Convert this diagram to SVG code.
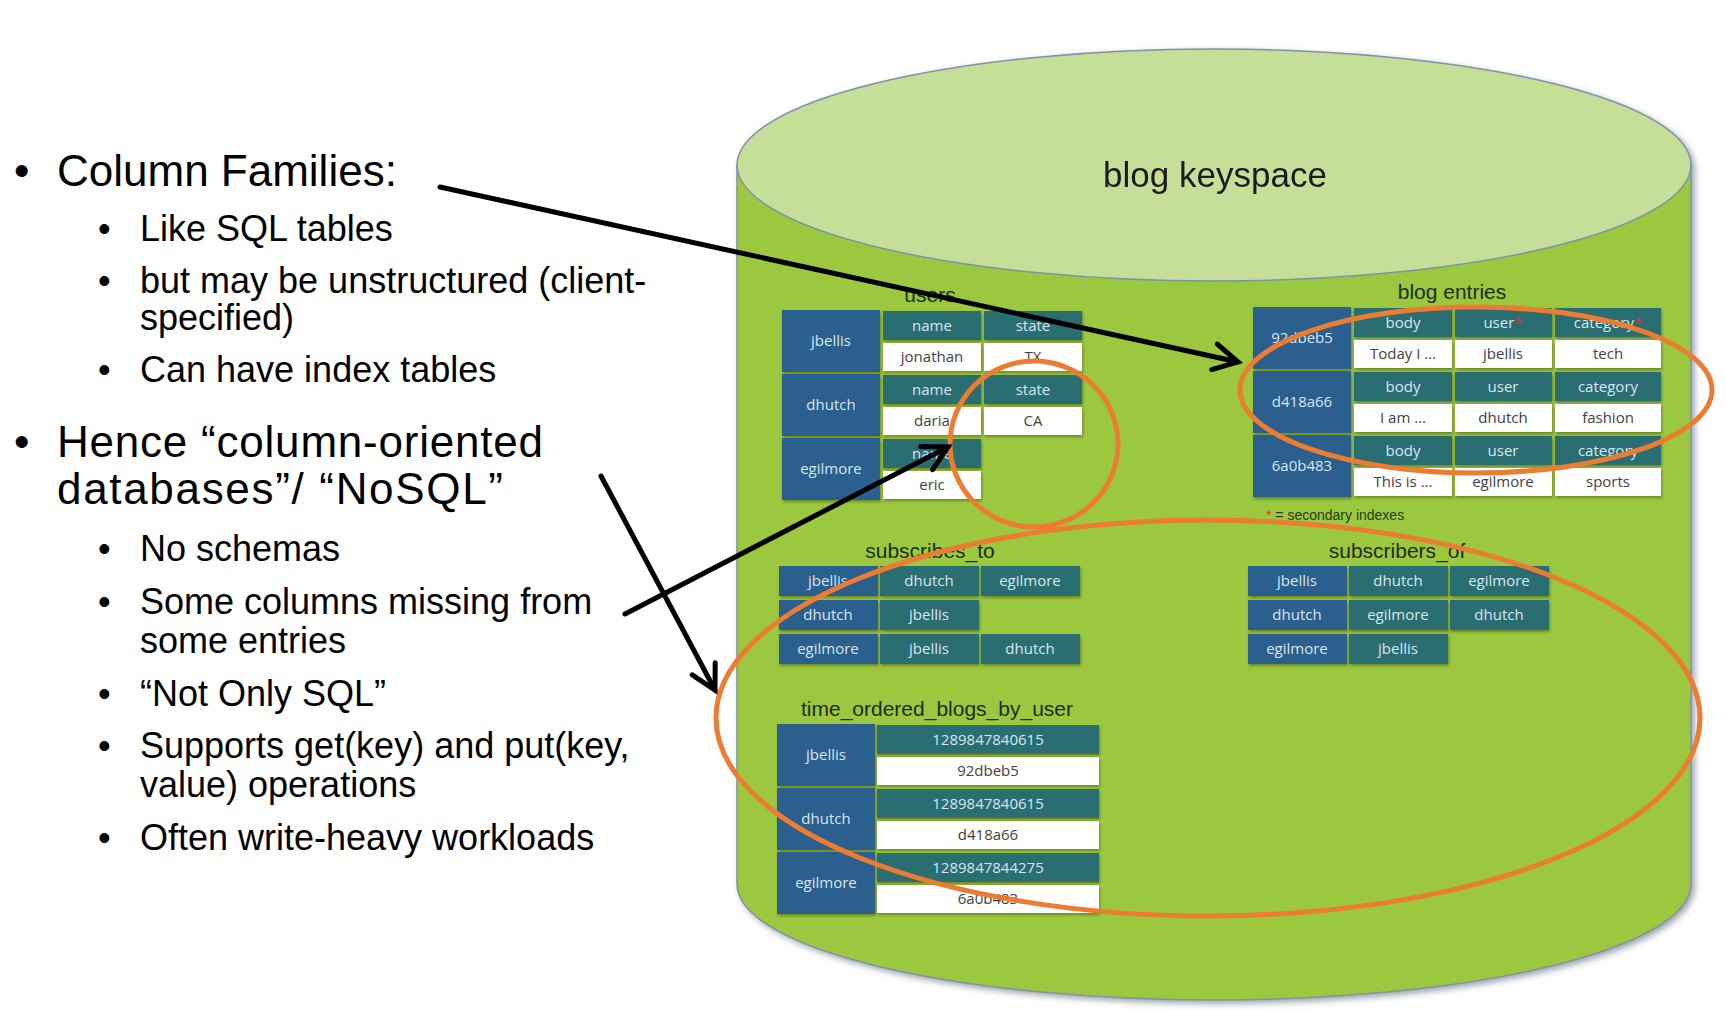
<svg xmlns="http://www.w3.org/2000/svg" width="1726" height="1010" viewBox="0 0 1726 1010">
<defs>
<style>
.l1{font-family:"Liberation Sans",Arial,sans-serif;font-size:44px;fill:#000}
.l2{font-family:"Liberation Sans",Arial,sans-serif;font-size:36px;fill:#000}
.ttl{font-family:"Liberation Sans",Arial,sans-serif;font-size:21px;fill:#1e2e0c;text-anchor:middle}
.key{fill:#2b5e8e}
.hdr{fill:#2a6e72}
.val{fill:#ffffff}
.tk{font-family:"Open Sans","DejaVu Sans",sans-serif;font-size:15px;fill:#d8e6ef;text-anchor:middle}
.tv{font-family:"Open Sans","DejaVu Sans",sans-serif;font-size:15px;fill:#3f3f3f;text-anchor:middle}
.ann{fill:none;stroke:#ec7c31;stroke-width:5}
.arr{fill:none;stroke:#000;stroke-width:5;stroke-linecap:round}
</style>
<filter id="sh" x="-5%" y="-5%" width="110%" height="115%">
<feDropShadow dx="1" dy="2" stdDeviation="1.5" flood-color="#2a3a10" flood-opacity="0.45"/>
</filter>
<filter id="cs" x="-5%" y="-5%" width="110%" height="110%">
<feDropShadow dx="3" dy="3" stdDeviation="3" flood-color="#5a6a78" flood-opacity="0.6"/>
</filter>
<marker id="ah" markerUnits="userSpaceOnUse" markerWidth="40" markerHeight="40" viewBox="-30 -20 40 40" refX="0" refY="0" orient="auto" overflow="visible">
<path d="M -24 -13 L 0 0 L -24 13" fill="none" stroke="#000" stroke-width="5" stroke-linecap="round" stroke-linejoin="miter"/>
</marker>
</defs>
<rect width="1726" height="1010" fill="#ffffff"/>

<g id="cylinder" filter="url(#cs)">
<path d="M 737 165 L 737 884 A 477 116 0 0 0 1691 884 L 1691 165 Z" fill="#9cc840" stroke="#7d93a6" stroke-width="1.5"/>
<ellipse cx="1214" cy="165" rx="477" ry="116" fill="#c6df98" stroke="#7d93a6" stroke-width="1.5"/>
<text x="1215" y="187" font-family="Liberation Sans, Arial, sans-serif" font-size="35" fill="#1a1a1a" text-anchor="middle">blog keyspace</text>
</g>

<g id="bullets-column-families">
<text class="l1" x="14" y="186">•</text><text class="l1" x="57" y="186">Column Families:</text>
<text class="l2" x="98" y="241">•</text><text class="l2" x="140" y="241">Like SQL tables</text>
<text class="l2" x="98" y="293">•</text><text class="l2" x="140" y="293">but may be unstructured (client-</text>
<text class="l2" x="140" y="330">specified)</text>
<text class="l2" x="98" y="382">•</text><text class="l2" x="140" y="382">Can have index tables</text>
</g>

<g id="bullets-hence">
<text class="l1" x="14" y="457">•</text><text class="l1" x="57" y="457" textLength="486" lengthAdjust="spacing">Hence “column-oriented</text>
<text class="l1" x="57" y="504" textLength="446" lengthAdjust="spacing">databases”/ “NoSQL”</text>
<text class="l2" x="98" y="561">•</text><text class="l2" x="140" y="561">No schemas</text>
<text class="l2" x="98" y="614">•</text><text class="l2" x="140" y="614">Some columns missing from</text>
<text class="l2" x="140" y="653">some entries</text>
<text class="l2" x="98" y="706">•</text><text class="l2" x="140" y="706">“Not Only SQL”</text>
<text class="l2" x="98" y="758">•</text><text class="l2" x="140" y="758">Supports get(key) and put(key,</text>
<text class="l2" x="140" y="797">value) operations</text>
<text class="l2" x="98" y="850">•</text><text class="l2" x="140" y="850">Often write-heavy workloads</text>
</g>

<g id="table-users">
<text class="ttl" x="930" y="302">users</text>
<g filter="url(#sh)">
<rect class="key" x="782" y="310" width="98" height="62"/>
<rect class="key" x="782" y="374" width="98" height="62"/>
<rect class="key" x="782" y="438" width="98" height="62"/>
<rect class="hdr" x="883" y="311" width="98" height="29"/><rect class="hdr" x="984" y="311" width="98" height="29"/>
<rect class="val" x="883" y="343" width="98" height="28"/><rect class="val" x="984" y="343" width="98" height="28"/>
<rect class="hdr" x="883" y="375" width="98" height="29"/><rect class="hdr" x="984" y="375" width="98" height="29"/>
<rect class="val" x="883" y="407" width="98" height="28"/><rect class="val" x="984" y="407" width="98" height="28"/>
<rect class="hdr" x="883" y="439" width="98" height="29"/>
<rect class="val" x="883" y="471" width="98" height="28"/>
</g>
<text class="tk" x="831" y="346">jbellis</text>
<text class="tk" x="831" y="410">dhutch</text>
<text class="tk" x="831" y="474">egilmore</text>
<text class="tk" x="932" y="331">name</text><text class="tk" x="1033" y="331">state</text>
<text class="tv" x="932" y="362">jonathan</text><text class="tv" x="1033" y="362">TX</text>
<text class="tk" x="932" y="395">name</text><text class="tk" x="1033" y="395">state</text>
<text class="tv" x="932" y="426">daria</text><text class="tv" x="1033" y="426">CA</text>
<text class="tk" x="932" y="459">name</text>
<text class="tv" x="932" y="490">eric</text>
</g>

<g id="table-blog-entries">
<text class="ttl" x="1452" y="299">blog entries</text>
<g filter="url(#sh)">
<rect class="key" x="1253" y="307" width="98" height="62"/>
<rect class="key" x="1253" y="371" width="98" height="62"/>
<rect class="key" x="1253" y="435" width="98" height="62"/>
<rect class="hdr" x="1354" y="308" width="98" height="29"/><rect class="hdr" x="1455" y="308" width="97" height="29"/><rect class="hdr" x="1555" y="308" width="106" height="29"/>
<rect class="val" x="1354" y="340" width="98" height="28"/><rect class="val" x="1455" y="340" width="97" height="28"/><rect class="val" x="1555" y="340" width="106" height="28"/>
<rect class="hdr" x="1354" y="372" width="98" height="29"/><rect class="hdr" x="1455" y="372" width="97" height="29"/><rect class="hdr" x="1555" y="372" width="106" height="29"/>
<rect class="val" x="1354" y="404" width="98" height="28"/><rect class="val" x="1455" y="404" width="97" height="28"/><rect class="val" x="1555" y="404" width="106" height="28"/>
<rect class="hdr" x="1354" y="436" width="98" height="29"/><rect class="hdr" x="1455" y="436" width="97" height="29"/><rect class="hdr" x="1555" y="436" width="106" height="29"/>
<rect class="val" x="1354" y="468" width="98" height="28"/><rect class="val" x="1455" y="468" width="97" height="28"/><rect class="val" x="1555" y="468" width="106" height="28"/>
</g>
<text class="tk" x="1302" y="343">92dbeb5</text>
<text class="tk" x="1302" y="407">d418a66</text>
<text class="tk" x="1302" y="471">6a0b483</text>
<text class="tk" x="1403" y="328">body</text><text class="tk" x="1503" y="328">user<tspan fill="#e0302a">*</tspan></text><text class="tk" x="1608" y="328">category<tspan fill="#e0302a">*</tspan></text>
<text class="tv" x="1403" y="359">Today I ...</text><text class="tv" x="1503" y="359">jbellis</text><text class="tv" x="1608" y="359">tech</text>
<text class="tk" x="1403" y="392">body</text><text class="tk" x="1503" y="392">user</text><text class="tk" x="1608" y="392">category</text>
<text class="tv" x="1403" y="423">I am ...</text><text class="tv" x="1503" y="423">dhutch</text><text class="tv" x="1608" y="423">fashion</text>
<text class="tk" x="1403" y="456">body</text><text class="tk" x="1503" y="456">user</text><text class="tk" x="1608" y="456">category</text>
<text class="tv" x="1403" y="487">This is ...</text><text class="tv" x="1503" y="487">egilmore</text><text class="tv" x="1608" y="487">sports</text>
<text x="1266" y="520" font-family="Liberation Sans, Arial, sans-serif" font-size="14" fill="#2a3a12"><tspan fill="#e0302a">*</tspan> = secondary indexes</text>
</g>

<g id="table-subscribes-to">
<text class="ttl" x="930" y="558">subscribes_to</text>
<g filter="url(#sh)">
<rect class="key" x="779" y="566" width="99" height="30"/><rect class="hdr" x="880" y="566" width="99" height="30"/><rect class="hdr" x="981" y="566" width="99" height="30"/>
<rect class="key" x="779" y="600" width="99" height="30"/><rect class="hdr" x="880" y="600" width="99" height="30"/>
<rect class="key" x="779" y="634" width="99" height="30"/><rect class="hdr" x="880" y="634" width="99" height="30"/><rect class="hdr" x="981" y="634" width="99" height="30"/>
</g>
<text class="tk" x="828" y="586">jbellis</text><text class="tk" x="929" y="586">dhutch</text><text class="tk" x="1030" y="586">egilmore</text>
<text class="tk" x="828" y="620">dhutch</text><text class="tk" x="929" y="620">jbellis</text>
<text class="tk" x="828" y="654">egilmore</text><text class="tk" x="929" y="654">jbellis</text><text class="tk" x="1030" y="654">dhutch</text>
</g>

<g id="table-subscribers-of">
<text class="ttl" x="1397" y="558">subscribers_of</text>
<g filter="url(#sh)">
<rect class="key" x="1248" y="566" width="99" height="30"/><rect class="hdr" x="1349" y="566" width="99" height="30"/><rect class="hdr" x="1450" y="566" width="99" height="30"/>
<rect class="key" x="1248" y="600" width="99" height="30"/><rect class="hdr" x="1349" y="600" width="99" height="30"/><rect class="hdr" x="1450" y="600" width="99" height="30"/>
<rect class="key" x="1248" y="634" width="99" height="30"/><rect class="hdr" x="1349" y="634" width="99" height="30"/>
</g>
<text class="tk" x="1297" y="586">jbellis</text><text class="tk" x="1398" y="586">dhutch</text><text class="tk" x="1499" y="586">egilmore</text>
<text class="tk" x="1297" y="620">dhutch</text><text class="tk" x="1398" y="620">egilmore</text><text class="tk" x="1499" y="620">dhutch</text>
<text class="tk" x="1297" y="654">egilmore</text><text class="tk" x="1398" y="654">jbellis</text>
</g>

<g id="table-time-ordered">
<text class="ttl" x="937" y="716">time_ordered_blogs_by_user</text>
<g filter="url(#sh)">
<rect class="key" x="777" y="724" width="98" height="62"/>
<rect class="key" x="777" y="788" width="98" height="62"/>
<rect class="key" x="777" y="852" width="98" height="62"/>
<rect class="hdr" x="877" y="725" width="222" height="29"/><rect class="val" x="877" y="757" width="222" height="28"/>
<rect class="hdr" x="877" y="789" width="222" height="29"/><rect class="val" x="877" y="821" width="222" height="28"/>
<rect class="hdr" x="877" y="853" width="222" height="29"/><rect class="val" x="877" y="885" width="222" height="28"/>
</g>
<text class="tk" x="826" y="760">jbellis</text>
<text class="tk" x="826" y="824">dhutch</text>
<text class="tk" x="826" y="888">egilmore</text>
<text class="tk" x="988" y="745">1289847840615</text><text class="tv" x="988" y="776">92dbeb5</text>
<text class="tk" x="988" y="809">1289847840615</text><text class="tv" x="988" y="840">d418a66</text>
<text class="tk" x="988" y="873">1289847844275</text><text class="tv" x="988" y="904">6a0b483</text>
</g>

<g id="highlights">
<ellipse class="ann" cx="1034" cy="444" rx="84" ry="83"/>
<ellipse class="ann" cx="1476" cy="390" rx="236" ry="83"/>
<ellipse class="ann" cx="1208" cy="718" rx="492" ry="198"/>
</g>

<g id="connectors">
<line class="arr" x1="440" y1="187" x2="1238" y2="362" marker-end="url(#ah)"/>
<line class="arr" x1="625" y1="614" x2="948" y2="447" marker-end="url(#ah)"/>
<line class="arr" x1="601" y1="476" x2="715" y2="690" marker-end="url(#ah)"/>
</g>
</svg>
